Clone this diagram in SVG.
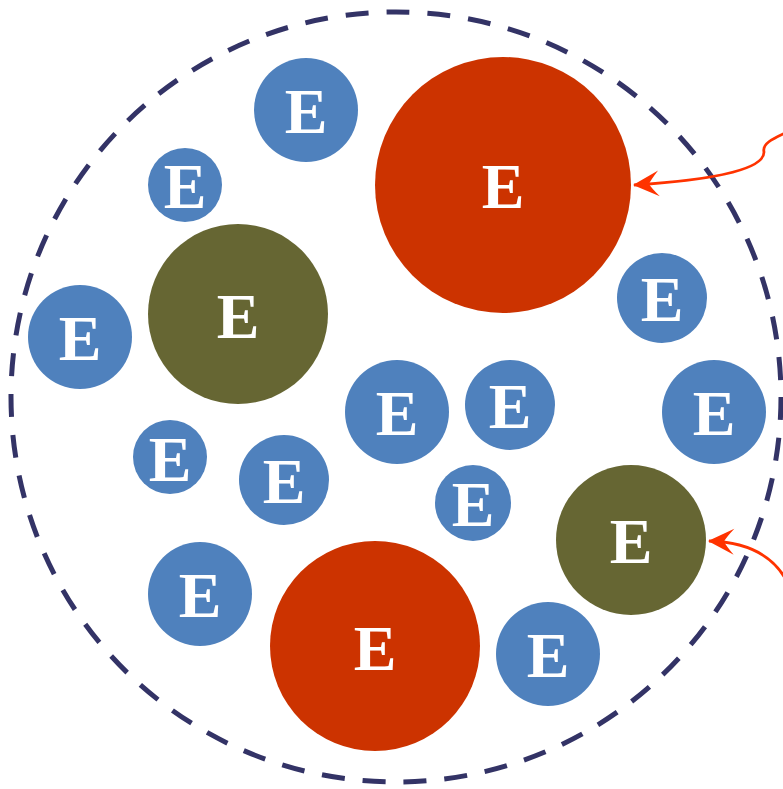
<svg xmlns="http://www.w3.org/2000/svg" width="783" height="789" viewBox="0 0 783 789">
<defs>
<style>
.b{fill:#4F81BD}
.r{fill:#CC3300}
.o{fill:#666633}
.t{fill:#FFFFFF;font-family:"Liberation Serif","DejaVu Serif",serif;font-weight:bold;font-size:64px;text-anchor:middle}
.a{fill:none;stroke:#FF3300;stroke-width:2.8}
</style>
<marker id="ah" viewBox="-27 -14 29 28" refX="0" refY="0" markerWidth="29" markerHeight="28" markerUnits="userSpaceOnUse" orient="auto">
<path d="M1,0 L-25,-13 Q-17,-4 -15,0 Q-17,4 -25,13 Z" fill="#FF3300"/>
</marker>
</defs>
<rect width="783" height="789" fill="#FFFFFF"/>
<g id="boundary">
<circle cx="396" cy="397" r="385" fill="none" stroke="#333366" stroke-width="5" stroke-dasharray="23 18"/>
</g>
<g id="n1"><circle class="b" cx="306" cy="110" r="52"/><text class="t" x="306" y="133">E</text></g>
<g id="n2"><circle class="r" cx="503" cy="185" r="128"/><text class="t" x="503" y="208">E</text></g>
<g id="n3"><circle class="b" cx="185" cy="185" r="37"/><text class="t" x="185" y="208">E</text></g>
<g id="n4"><circle class="o" cx="238" cy="314" r="90"/><text class="t" x="238" y="338">E</text></g>
<g id="n5"><circle class="b" cx="80" cy="337" r="52"/><text class="t" x="80" y="360">E</text></g>
<g id="n6"><circle class="b" cx="662" cy="298" r="45"/><text class="t" x="662" y="321">E</text></g>
<g id="n7"><circle class="b" cx="397" cy="412" r="52"/><text class="t" x="397" y="435">E</text></g>
<g id="n8"><circle class="b" cx="510" cy="405" r="45"/><text class="t" x="510" y="428">E</text></g>
<g id="n9"><circle class="b" cx="714" cy="412" r="52"/><text class="t" x="714" y="435">E</text></g>
<g id="n10"><circle class="b" cx="170" cy="457" r="37"/><text class="t" x="170" y="481">E</text></g>
<g id="n11"><circle class="b" cx="284" cy="480" r="45"/><text class="t" x="284" y="503">E</text></g>
<g id="n12"><circle class="b" cx="473" cy="503" r="38"/><text class="t" x="473" y="526">E</text></g>
<g id="n13"><circle class="o" cx="631" cy="540" r="75"/><text class="t" x="631" y="563">E</text></g>
<g id="n14"><circle class="b" cx="200" cy="594" r="52"/><text class="t" x="200" y="617">E</text></g>
<g id="n15"><circle class="r" cx="375" cy="646" r="105"/><text class="t" x="375" y="670">E</text></g>
<g id="n16"><circle class="b" cx="548" cy="654" r="52"/><text class="t" x="548" y="677">E</text></g>
<g id="connectors">
<path class="a" d="M785,133 C772,139 762,144 764,152 C764,170 710,180 634,185" marker-end="url(#ah)"/>
<path class="a" d="M785,578 C772,556 748,542 709,541" marker-end="url(#ah)"/>
</g>
</svg>
